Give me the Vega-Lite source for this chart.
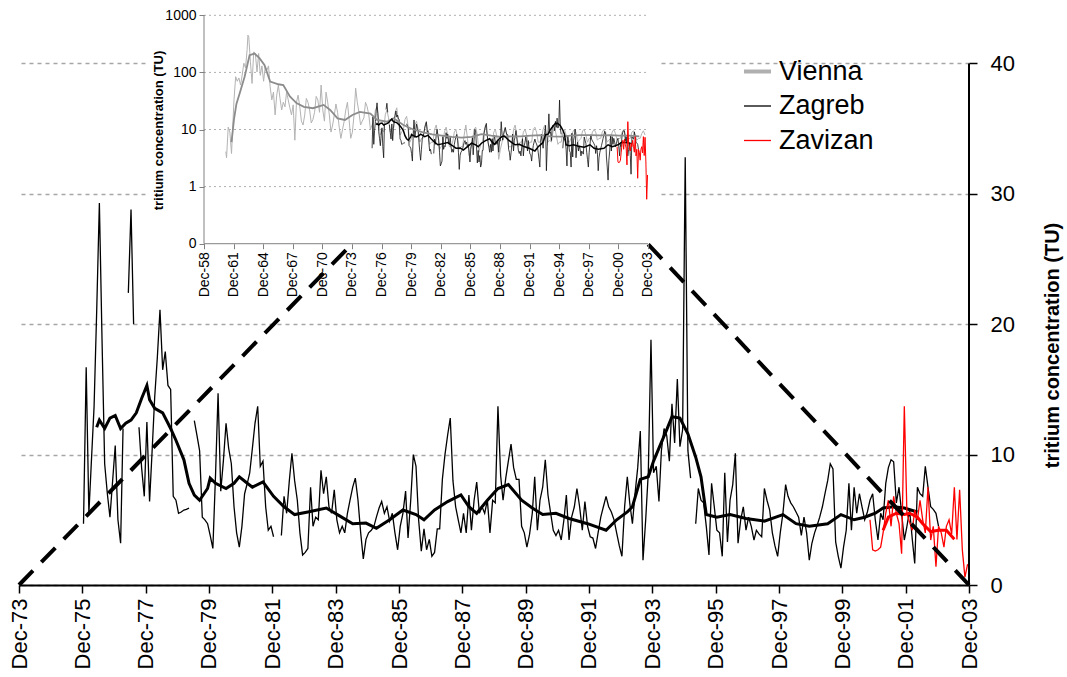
{
"$schema": "https://vega.github.io/schema/vega-lite/v6.json",
"width": 950,
"height": 585,
"autosize": {"type": "none"},
"padding": {"left": 19, "top": 0, "right": 98, "bottom": 92},
"background": "white",
"config": {
  "view": {"stroke": null},
  "font": "Liberation Sans",
  "axis": {"labelColor": "black", "labelFont": "Liberation Sans", "titleColor": "black", "titleFont": "Liberation Sans"},
  "legend": {"labelFont": "Liberation Sans", "labelColor": "black"}
},
"datasets": {
  "zag": [
    {"d":"1975-12-15","v":4.7},
    {"d":"1976-01-15","v":16.7},{"d":"1976-02-15","v":5.5},{"d":"1976-03-15","v":9.5},{"d":"1976-04-15","v":13.7},{"d":"1976-05-15","v":21},{"d":"1976-06-15","v":29.3},{"d":"1976-07-15","v":19},{"d":"1976-08-15","v":9.3},{"d":"1976-09-15","v":7},{"d":"1976-10-15","v":5.2},{"d":"1976-11-15","v":8},{"d":"1976-12-15","v":10.7},
    {"d":"1977-01-15","v":5.0},{"d":"1977-02-15","v":3.2},{"d":"1977-03-15","v":12},{"d":"1977-04-15","v":null},{"d":"1977-05-15","v":22.4},{"d":"1977-06-15","v":28.8},{"d":"1977-07-15","v":20},{"d":"1977-08-15","v":null},{"d":"1977-09-15","v":12.1},{"d":"1977-10-15","v":9},{"d":"1977-11-15","v":6.8},{"d":"1977-12-15","v":12.5},
    {"d":"1978-01-15","v":6.4},{"d":"1978-02-15","v":10.5},{"d":"1978-03-15","v":14.4},{"d":"1978-04-15","v":17.5},{"d":"1978-05-15","v":21.1},{"d":"1978-06-15","v":16.5},{"d":"1978-07-15","v":17.9},{"d":"1978-08-15","v":15.3},{"d":"1978-09-15","v":15.0},{"d":"1978-10-15","v":6.8},{"d":"1978-11-15","v":6.5},{"d":"1978-12-15","v":5.5},
    {"d":"1979-01-15","v":5.6},{"d":"1979-02-15","v":5.75},{"d":"1979-03-15","v":5.8},{"d":"1979-04-15","v":5.9},{"d":"1979-05-15","v":null},{"d":"1979-06-15","v":12.6},{"d":"1979-07-15","v":11.5},{"d":"1979-08-15","v":10.3},{"d":"1979-09-15","v":5.2},{"d":"1979-10-15","v":5.0},{"d":"1979-11-15","v":4.7},{"d":"1979-12-15","v":3.8},
    {"d":"1980-01-15","v":2.8},{"d":"1980-02-15","v":8.5},{"d":"1980-03-15","v":14.7},{"d":"1980-04-15","v":7.2},{"d":"1980-05-15","v":9.5},{"d":"1980-06-15","v":12.4},{"d":"1980-07-15","v":10.5},{"d":"1980-08-15","v":9.3},{"d":"1980-09-15","v":6},{"d":"1980-10-15","v":4},{"d":"1980-11-15","v":2.9},{"d":"1980-12-15","v":4.5},
    {"d":"1981-01-15","v":7.0},{"d":"1981-02-15","v":7.8},{"d":"1981-03-15","v":8.6},{"d":"1981-04-15","v":10.5},{"d":"1981-05-15","v":12.4},{"d":"1981-06-15","v":13.7},{"d":"1981-07-15","v":9.1},{"d":"1981-08-15","v":9.5},{"d":"1981-09-15","v":6},{"d":"1981-10-15","v":4.2},{"d":"1981-11-15","v":4.5},{"d":"1981-12-15","v":3.7},
    {"d":"1982-01-15","v":null},{"d":"1982-02-15","v":null},{"d":"1982-03-15","v":3.8},{"d":"1982-04-15","v":6.8},{"d":"1982-05-15","v":5.5},{"d":"1982-06-15","v":8},{"d":"1982-07-15","v":10.1},{"d":"1982-08-15","v":8},{"d":"1982-09-15","v":6.5},{"d":"1982-10-15","v":4},{"d":"1982-11-15","v":2.3},{"d":"1982-12-15","v":2.5},
    {"d":"1983-01-15","v":2.8},{"d":"1983-02-15","v":7.5},{"d":"1983-03-15","v":4.5},{"d":"1983-04-15","v":5.2},{"d":"1983-05-15","v":5.0},{"d":"1983-06-15","v":8.8},{"d":"1983-07-15","v":7},{"d":"1983-08-15","v":8.3},{"d":"1983-09-15","v":6.0},{"d":"1983-10-15","v":5.5},{"d":"1983-11-15","v":7.3},{"d":"1983-12-15","v":5},
    {"d":"1984-01-15","v":4.0},{"d":"1984-02-15","v":4.5},{"d":"1984-03-15","v":4.0},{"d":"1984-04-15","v":5.5},{"d":"1984-05-15","v":6.5},{"d":"1984-06-15","v":7.5},{"d":"1984-07-15","v":8.2},{"d":"1984-08-15","v":6.5},{"d":"1984-09-15","v":4.0},{"d":"1984-10-15","v":2.0},{"d":"1984-11-15","v":3.5},{"d":"1984-12-15","v":4.0},
    {"d":"1985-01-15","v":4.2},{"d":"1985-02-15","v":4.5},{"d":"1985-03-15","v":5.2},{"d":"1985-04-15","v":5.9},{"d":"1985-05-15","v":6.4},{"d":"1985-06-15","v":5.5},{"d":"1985-07-15","v":6.0},{"d":"1985-08-15","v":4.9},{"d":"1985-09-15","v":5.5},{"d":"1985-10-15","v":4.0},{"d":"1985-11-15","v":2.7},{"d":"1985-12-15","v":4.5},
    {"d":"1986-01-15","v":5.5},{"d":"1986-02-15","v":7.2},{"d":"1986-03-15","v":3.6},{"d":"1986-04-15","v":6.5},{"d":"1986-05-15","v":10.0},{"d":"1986-06-15","v":9.1},{"d":"1986-07-15","v":5},{"d":"1986-08-15","v":2.6},{"d":"1986-09-15","v":4.3},{"d":"1986-10-15","v":2.7},{"d":"1986-11-15","v":3.5},{"d":"1986-12-15","v":2.2},
    {"d":"1987-01-15","v":2.5},{"d":"1987-02-15","v":4.3},{"d":"1987-03-15","v":4.3},{"d":"1987-04-15","v":8.1},{"d":"1987-05-15","v":10},{"d":"1987-06-15","v":11.5},{"d":"1987-07-15","v":12.8},{"d":"1987-08-15","v":8},{"d":"1987-09-15","v":6.0},{"d":"1987-10-15","v":5},{"d":"1987-11-15","v":4.0},{"d":"1987-12-15","v":5.5},
    {"d":"1988-01-15","v":4.0},{"d":"1988-02-15","v":6.9},{"d":"1988-03-15","v":4.2},{"d":"1988-04-15","v":6.5},{"d":"1988-05-15","v":7.9},{"d":"1988-06-15","v":5.5},{"d":"1988-07-15","v":6.0},{"d":"1988-08-15","v":5.5},{"d":"1988-09-15","v":6.5},{"d":"1988-10-15","v":4.0},{"d":"1988-11-15","v":6.5},{"d":"1988-12-15","v":6.3},
    {"d":"1989-01-15","v":13.7},{"d":"1989-02-15","v":8.4},{"d":"1989-03-15","v":6.5},{"d":"1989-04-15","v":8.2},{"d":"1989-05-15","v":9.5},{"d":"1989-06-15","v":10.8},{"d":"1989-07-15","v":9},{"d":"1989-08-15","v":8.1},{"d":"1989-09-15","v":8.1},{"d":"1989-10-15","v":4.5},{"d":"1989-11-15","v":4.0},{"d":"1989-12-15","v":2.9},
    {"d":"1990-01-15","v":3.9},{"d":"1990-02-15","v":5.5},{"d":"1990-03-15","v":8.3},{"d":"1990-04-15","v":4.2},{"d":"1990-05-15","v":6.5},{"d":"1990-06-15","v":7.5},{"d":"1990-07-15","v":9.6},{"d":"1990-08-15","v":6.9},{"d":"1990-09-15","v":5.5},{"d":"1990-10-15","v":4.2},{"d":"1990-11-15","v":3.8},{"d":"1990-12-15","v":4.2},
    {"d":"1991-01-15","v":3.45},{"d":"1991-02-15","v":5},{"d":"1991-03-15","v":6.9},{"d":"1991-04-15","v":3.45},{"d":"1991-05-15","v":5.2},{"d":"1991-06-15","v":6},{"d":"1991-07-15","v":7.4},{"d":"1991-08-15","v":6.0},{"d":"1991-09-15","v":4.2},{"d":"1991-10-15","v":6.4},{"d":"1991-11-15","v":4.5},{"d":"1991-12-15","v":3.7},
    {"d":"1992-01-15","v":3.6},{"d":"1992-02-15","v":2.8},{"d":"1992-03-15","v":4.0},{"d":"1992-04-15","v":5.2},{"d":"1992-05-15","v":6.0},{"d":"1992-06-15","v":6.8},{"d":"1992-07-15","v":6.0},{"d":"1992-08-15","v":5.6},{"d":"1992-09-15","v":5.0},{"d":"1992-10-15","v":4.0},{"d":"1992-11-15","v":3.0},{"d":"1992-12-15","v":2.2},
    {"d":"1993-01-15","v":6.0},{"d":"1993-02-15","v":8.3},{"d":"1993-03-15","v":6.3},{"d":"1993-04-15","v":4.7},{"d":"1993-05-15","v":7},{"d":"1993-06-15","v":9},{"d":"1993-07-15","v":11.8},{"d":"1993-08-15","v":1.9},{"d":"1993-09-15","v":5},{"d":"1993-10-15","v":8.6},{"d":"1993-11-15","v":18.8},{"d":"1993-12-15","v":8.6},
    {"d":"1994-01-15","v":9.1},{"d":"1994-02-15","v":6.4},{"d":"1994-03-15","v":10.3},{"d":"1994-04-15","v":12.0},{"d":"1994-05-15","v":11.5},{"d":"1994-06-15","v":9.5},{"d":"1994-07-15","v":13.9},{"d":"1994-08-15","v":10.9},{"d":"1994-09-15","v":15.8},{"d":"1994-10-15","v":10.6},{"d":"1994-11-15","v":11.9},{"d":"1994-12-15","v":32.8},
    {"d":"1995-01-15","v":10.3},{"d":"1995-02-15","v":8.2},{"d":"1995-03-15","v":null},{"d":"1995-04-15","v":4.7},{"d":"1995-05-15","v":7.4},{"d":"1995-06-15","v":6.5},{"d":"1995-07-15","v":6.3},{"d":"1995-08-15","v":4.5},{"d":"1995-09-15","v":2.3},{"d":"1995-10-15","v":7.8},{"d":"1995-11-15","v":6},{"d":"1995-12-15","v":4.2},
    {"d":"1996-01-15","v":4.0},{"d":"1996-02-15","v":2.2},{"d":"1996-03-15","v":8.6},{"d":"1996-04-15","v":3.3},{"d":"1996-05-15","v":6.5},{"d":"1996-06-15","v":7.7},{"d":"1996-07-15","v":10.1},{"d":"1996-08-15","v":3.2},{"d":"1996-09-15","v":5.0},{"d":"1996-10-15","v":6.0},{"d":"1996-11-15","v":4.2},{"d":"1996-12-15","v":5.2},
    {"d":"1997-01-15","v":4.5},{"d":"1997-02-15","v":3.45},{"d":"1997-03-15","v":4.2},{"d":"1997-04-15","v":3.9},{"d":"1997-05-15","v":3.7},{"d":"1997-06-15","v":7.4},{"d":"1997-07-15","v":6.5},{"d":"1997-08-15","v":5.75},{"d":"1997-09-15","v":4.0},{"d":"1997-10-15","v":3.0},{"d":"1997-11-15","v":2.2},{"d":"1997-12-15","v":4.0},
    {"d":"1998-01-15","v":5.5},{"d":"1998-02-15","v":7.7},{"d":"1998-03-15","v":6.8},{"d":"1998-04-15","v":6.3},{"d":"1998-05-15","v":6.0},{"d":"1998-06-15","v":5.6},{"d":"1998-07-15","v":5.2},{"d":"1998-08-15","v":3.8},{"d":"1998-09-15","v":5.2},{"d":"1998-10-15","v":4.0},{"d":"1998-11-15","v":1.9},{"d":"1998-12-15","v":3.2},
    {"d":"1999-01-15","v":4.0},{"d":"1999-02-15","v":4.6},{"d":"1999-03-15","v":5.2},{"d":"1999-04-15","v":6.0},{"d":"1999-05-15","v":7.0},{"d":"1999-06-15","v":8.0},{"d":"1999-07-15","v":9.3},{"d":"1999-08-15","v":8.9},{"d":"1999-09-15","v":3.3},{"d":"1999-10-15","v":2.2},{"d":"1999-11-15","v":1.3},{"d":"1999-12-15","v":2.9},
    {"d":"2000-01-15","v":4.2},{"d":"2000-02-15","v":7.8},{"d":"2000-03-15","v":4.2},{"d":"2000-04-15","v":7.5},{"d":"2000-05-15","v":5.5},{"d":"2000-06-15","v":7.0},{"d":"2000-07-15","v":6.0},{"d":"2000-08-15","v":5.0},{"d":"2000-09-15","v":5.6},{"d":"2000-10-15","v":6.5},{"d":"2000-11-15","v":7.0},{"d":"2000-12-15","v":5.0},
    {"d":"2001-01-15","v":3.45},{"d":"2001-02-15","v":5.5},{"d":"2001-03-15","v":5.0},{"d":"2001-04-15","v":7.8},{"d":"2001-05-15","v":9.0},{"d":"2001-06-15","v":9.6},{"d":"2001-07-15","v":9.45},{"d":"2001-08-15","v":6.3},{"d":"2001-09-15","v":7.5},{"d":"2001-10-15","v":5.5},{"d":"2001-11-15","v":3.45},{"d":"2001-12-15","v":4.5},
    {"d":"2002-01-15","v":5.75},{"d":"2002-02-15","v":3.5},{"d":"2002-03-15","v":1.65},{"d":"2002-04-15","v":7.5},{"d":"2002-05-15","v":7.0},{"d":"2002-06-15","v":6.8},{"d":"2002-07-15","v":9.1},{"d":"2002-08-15","v":7.5},{"d":"2002-09-15","v":6.0},{"d":"2002-10-15","v":5.8},{"d":"2002-11-15","v":5.5},{"d":"2002-12-15","v":4.5}
  ],
  "zagavg": [
    {"d":"1976-05-15","v":12.1},{"d":"1976-06-15","v":12.65},{"d":"1976-08-15","v":12.0},{"d":"1976-10-15","v":12.8},{"d":"1976-12-15","v":13.0},{"d":"1977-02-15","v":12.0},{"d":"1977-04-15","v":12.4},{"d":"1977-06-15","v":12.65},{"d":"1977-08-15","v":13.2},{"d":"1977-10-15","v":14.3},{"d":"1977-12-15","v":15.3},{"d":"1978-01-15","v":14.2},{"d":"1978-03-15","v":13.55},{"d":"1978-06-15","v":13.2},{"d":"1978-09-15","v":12.0},{"d":"1978-11-15","v":11.1},{"d":"1979-02-15","v":9.6},{"d":"1979-04-15","v":7.8},{"d":"1979-06-15","v":6.9},{"d":"1979-08-15","v":6.5},{"d":"1979-11-15","v":7.4},{"d":"1979-12-15","v":8.2},{"d":"1980-02-15","v":7.8},{"d":"1980-06-15","v":7.4},{"d":"1980-09-15","v":7.8},{"d":"1980-11-15","v":8.3},{"d":"1981-02-15","v":7.8},{"d":"1981-04-15","v":7.5},{"d":"1981-08-15","v":7.9},{"d":"1981-12-15","v":6.8},{"d":"1982-04-15","v":6.0},{"d":"1982-08-15","v":5.4},{"d":"1983-01-15","v":5.6},{"d":"1983-08-15","v":5.9},{"d":"1984-01-15","v":5.3},{"d":"1984-06-15","v":4.7},{"d":"1984-11-15","v":4.75},{"d":"1985-03-15","v":4.35},{"d":"1985-08-15","v":5.0},{"d":"1986-01-15","v":5.75},{"d":"1986-06-15","v":5.4},{"d":"1986-09-15","v":5.0},{"d":"1987-01-15","v":5.75},{"d":"1987-06-15","v":6.4},{"d":"1987-11-15","v":6.9},{"d":"1988-02-15","v":6.0},{"d":"1988-05-15","v":5.5},{"d":"1988-09-15","v":6.5},{"d":"1989-01-15","v":7.4},{"d":"1989-05-15","v":7.7},{"d":"1989-10-15","v":6.5},{"d":"1990-02-15","v":5.9},{"d":"1990-06-15","v":5.4},{"d":"1990-11-15","v":5.5},{"d":"1991-04-15","v":5.1},{"d":"1991-11-15","v":4.7},{"d":"1992-06-15","v":4.2},{"d":"1992-10-15","v":5.0},{"d":"1993-02-15","v":5.6},{"d":"1993-04-15","v":6.0},{"d":"1993-07-15","v":8.1},{"d":"1993-10-15","v":8.3},{"d":"1993-12-15","v":9.5},{"d":"1994-02-15","v":10.5},{"d":"1994-05-15","v":11.9},{"d":"1994-07-15","v":12.9},{"d":"1994-10-15","v":12.8},{"d":"1995-01-15","v":11.6},{"d":"1995-04-15","v":9.8},{"d":"1995-06-15","v":8.3},{"d":"1995-08-15","v":5.4},{"d":"1995-12-15","v":5.2},{"d":"1996-05-15","v":5.4},{"d":"1996-11-15","v":5.1},{"d":"1997-06-15","v":4.9},{"d":"1998-01-15","v":5.4},{"d":"1998-06-15","v":4.7},{"d":"1998-11-15","v":4.5},{"d":"1999-06-15","v":4.7},{"d":"1999-11-15","v":5.4},{"d":"2000-04-15","v":5.0},{"d":"2000-08-15","v":5.2},{"d":"2000-12-15","v":5.5},{"d":"2001-03-15","v":5.9},{"d":"2001-07-15","v":6.0},{"d":"2001-11-15","v":5.9},{"d":"2002-04-15","v":5.6}
  ],
  "zav": [
    {"d":"2000-10-15","v":5.0},{"d":"2000-11-15","v":2.7},{"d":"2000-12-15","v":2.6},{"d":"2001-01-15","v":2.7},{"d":"2001-02-15","v":2.9},{"d":"2001-03-15","v":4.0},{"d":"2001-04-15","v":5.5},{"d":"2001-05-15","v":6.5},{"d":"2001-06-15","v":4.5},{"d":"2001-07-15","v":6.8},{"d":"2001-08-15","v":5.5},{"d":"2001-09-15","v":4.7},{"d":"2001-10-15","v":2.4},{"d":"2001-11-15","v":13.7},{"d":"2001-12-15","v":5.5},
    {"d":"2002-01-15","v":4.8},{"d":"2002-02-15","v":4.2},{"d":"2002-03-15","v":5.75},{"d":"2002-04-15","v":5.0},{"d":"2002-05-15","v":6.5},{"d":"2002-06-15","v":5.0},{"d":"2002-07-15","v":4.0},{"d":"2002-08-15","v":7.5},{"d":"2002-09-15","v":3.45},{"d":"2002-10-15","v":4.5},{"d":"2002-11-15","v":1.4},{"d":"2002-12-15","v":4.5},
    {"d":"2003-01-15","v":4.0},{"d":"2003-02-15","v":2.9},{"d":"2003-03-15","v":4.5},{"d":"2003-04-15","v":5.0},{"d":"2003-05-15","v":3.9},{"d":"2003-06-15","v":7.5},{"d":"2003-07-15","v":3.5},{"d":"2003-08-15","v":7.3},{"d":"2003-09-15","v":2.7},{"d":"2003-10-15","v":0.6},{"d":"2003-11-15","v":1.6}
  ],
  "zavavg": [
    {"d":"2001-03-15","v":4.2},{"d":"2001-05-15","v":5.2},{"d":"2001-08-15","v":5.5},{"d":"2001-11-15","v":5.4},{"d":"2002-01-15","v":5.5},{"d":"2002-04-15","v":5.2},{"d":"2002-06-15","v":4.7},{"d":"2002-09-15","v":4.1},{"d":"2002-12-15","v":4.2},{"d":"2003-03-15","v":4.2},{"d":"2003-06-15","v":3.5}
  ],
  "vie": [
    {"d":"1961-02-15","v":4.1},{"d":"1961-03-15","v":3.2},{"d":"1961-05-15","v":11},{"d":"1961-07-15","v":9},{"d":"1961-09-15","v":3.8},{"d":"1961-12-15","v":33},
    {"d":"1962-02-15","v":84},{"d":"1962-04-15","v":70},{"d":"1962-06-15","v":80},{"d":"1962-08-15","v":60},{"d":"1962-10-15","v":90},{"d":"1962-12-15","v":145},
    {"d":"1963-02-15","v":120},{"d":"1963-04-15","v":250},{"d":"1963-05-15","v":450},{"d":"1963-06-15","v":420},{"d":"1963-08-15","v":154},{"d":"1963-10-15","v":64},{"d":"1963-12-15","v":229},
    {"d":"1964-02-15","v":210},{"d":"1964-04-15","v":102},{"d":"1964-06-15","v":214},{"d":"1964-08-15","v":89},{"d":"1964-10-15","v":130},{"d":"1964-12-15","v":70},
    {"d":"1965-02-15","v":126},{"d":"1965-04-15","v":110},{"d":"1965-06-15","v":130},{"d":"1965-08-15","v":56},{"d":"1965-10-15","v":33},{"d":"1965-12-15","v":45},
    {"d":"1966-02-15","v":18},{"d":"1966-04-15","v":40},{"d":"1966-06-15","v":60},{"d":"1966-08-15","v":35},{"d":"1966-10-15","v":22},{"d":"1966-12-15","v":30},
    {"d":"1967-02-15","v":25},{"d":"1967-04-15","v":45},{"d":"1967-06-15","v":33},{"d":"1967-08-15","v":24},{"d":"1967-10-15","v":18},{"d":"1967-12-15","v":27},
    {"d":"1968-02-15","v":6.5},{"d":"1968-04-15","v":30},{"d":"1968-06-15","v":40},{"d":"1968-08-15","v":25},{"d":"1968-10-15","v":14},{"d":"1968-12-15","v":12},
    {"d":"1969-02-15","v":18},{"d":"1969-04-15","v":35},{"d":"1969-06-15","v":30},{"d":"1969-08-15","v":22},{"d":"1969-10-15","v":13},{"d":"1969-12-15","v":15},
    {"d":"1970-02-15","v":20},{"d":"1970-04-15","v":38},{"d":"1970-06-15","v":33},{"d":"1970-08-15","v":20},{"d":"1970-10-15","v":60},{"d":"1970-12-15","v":22},
    {"d":"1971-02-15","v":14},{"d":"1971-04-15","v":45},{"d":"1971-06-15","v":30},{"d":"1971-08-15","v":18},{"d":"1971-10-15","v":9},{"d":"1971-12-15","v":12},
    {"d":"1972-02-15","v":18},{"d":"1972-04-15","v":28},{"d":"1972-06-15","v":20},{"d":"1972-08-15","v":11},{"d":"1972-10-15","v":7},{"d":"1972-12-15","v":10},
    {"d":"1973-02-15","v":14},{"d":"1973-04-15","v":22},{"d":"1973-06-15","v":30},{"d":"1973-08-15","v":15},{"d":"1973-10-15","v":7},{"d":"1973-12-15","v":9},
    {"d":"1974-02-15","v":18},{"d":"1974-04-15","v":53},{"d":"1974-06-15","v":30},{"d":"1974-08-15","v":20},{"d":"1974-10-15","v":12},{"d":"1974-12-15","v":14},
    {"d":"1975-02-15","v":16},{"d":"1975-04-15","v":30},{"d":"1975-06-15","v":25},{"d":"1975-08-15","v":18},{"d":"1975-10-15","v":10},{"d":"1975-12-15","v":12},
    {"d":"1976-02-15","v":14},{"d":"1976-04-15","v":22},{"d":"1976-06-15","v":25},{"d":"1976-08-15","v":15},{"d":"1976-10-15","v":8},{"d":"1976-12-15","v":10},
    {"d":"1977-02-15","v":9},{"d":"1977-04-15","v":18},{"d":"1977-06-15","v":22},{"d":"1977-08-15","v":16},{"d":"1977-10-15","v":9},{"d":"1977-12-15","v":10},
    {"d":"1978-02-15","v":11},{"d":"1978-04-15","v":20},{"d":"1978-06-15","v":24},{"d":"1978-08-15","v":14},{"d":"1978-10-15","v":8},{"d":"1978-12-15","v":9},
    {"d":"1979-02-15","v":10},{"d":"1979-04-15","v":15},{"d":"1979-06-15","v":17},{"d":"1979-08-15","v":11},{"d":"1979-10-15","v":6},{"d":"1979-12-15","v":7},
    {"d":"1980-02-15","v":8},{"d":"1980-04-15","v":12},{"d":"1980-06-15","v":14},{"d":"1980-08-15","v":10},{"d":"1980-10-15","v":6},{"d":"1980-12-15","v":7},
    {"d":"1981-02-15","v":7},{"d":"1981-04-15","v":11},{"d":"1981-06-15","v":13},{"d":"1981-08-15","v":9},{"d":"1981-10-15","v":5.5},{"d":"1981-12-15","v":6},
    {"d":"1982-02-15","v":6},{"d":"1982-04-15","v":10},{"d":"1982-06-15","v":12},{"d":"1982-08-15","v":8},{"d":"1982-10-15","v":4.5},{"d":"1982-12-15","v":5},
    {"d":"1983-02-15","v":5.5},{"d":"1983-04-15","v":9},{"d":"1983-06-15","v":11},{"d":"1983-08-15","v":8},{"d":"1983-10-15","v":5},{"d":"1983-12-15","v":5},
    {"d":"1984-02-15","v":6},{"d":"1984-04-15","v":9},{"d":"1984-06-15","v":10},{"d":"1984-08-15","v":7},{"d":"1984-10-15","v":4.5},{"d":"1984-12-15","v":5},
    {"d":"1985-02-15","v":5},{"d":"1985-04-15","v":8},{"d":"1985-06-15","v":12},{"d":"1985-08-15","v":7},{"d":"1985-10-15","v":3.5},{"d":"1985-12-15","v":5},
    {"d":"1986-02-15","v":6},{"d":"1986-04-15","v":10},{"d":"1986-06-15","v":11},{"d":"1986-08-15","v":8},{"d":"1986-10-15","v":4},{"d":"1986-12-15","v":5.5},
    {"d":"1987-02-15","v":6},{"d":"1987-04-15","v":9},{"d":"1987-06-15","v":12},{"d":"1987-08-15","v":8},{"d":"1987-10-15","v":5},{"d":"1987-12-15","v":5},
    {"d":"1988-02-15","v":5.5},{"d":"1988-04-15","v":9},{"d":"1988-06-15","v":10},{"d":"1988-08-15","v":7},{"d":"1988-10-15","v":3},{"d":"1988-12-15","v":4.5},
    {"d":"1989-02-15","v":6},{"d":"1989-04-15","v":9},{"d":"1989-06-15","v":11},{"d":"1989-08-15","v":7.5},{"d":"1989-10-15","v":5},{"d":"1989-12-15","v":5},
    {"d":"1990-02-15","v":5},{"d":"1990-04-15","v":10},{"d":"1990-06-15","v":12},{"d":"1990-08-15","v":8},{"d":"1990-10-15","v":5},{"d":"1990-12-15","v":6},
    {"d":"1991-02-15","v":6},{"d":"1991-04-15","v":9},{"d":"1991-06-15","v":10},{"d":"1991-08-15","v":8},{"d":"1991-10-15","v":5.5},{"d":"1991-12-15","v":6},
    {"d":"1992-02-15","v":6},{"d":"1992-04-15","v":10},{"d":"1992-06-15","v":11},{"d":"1992-08-15","v":9},{"d":"1992-10-15","v":6},{"d":"1992-12-15","v":6},
    {"d":"1993-02-15","v":7},{"d":"1993-04-15","v":10},{"d":"1993-06-15","v":12},{"d":"1993-08-15","v":8.5},{"d":"1993-10-15","v":6},{"d":"1993-12-15","v":6.5},
    {"d":"1994-02-15","v":6},{"d":"1994-04-15","v":9},{"d":"1994-06-15","v":11},{"d":"1994-08-15","v":8},{"d":"1994-10-15","v":5.5},{"d":"1994-12-15","v":6},
    {"d":"1995-02-15","v":6},{"d":"1995-04-15","v":9},{"d":"1995-06-15","v":10},{"d":"1995-08-15","v":8},{"d":"1995-10-15","v":6},{"d":"1995-12-15","v":6},
    {"d":"1996-02-15","v":7},{"d":"1996-04-15","v":9},{"d":"1996-06-15","v":10},{"d":"1996-08-15","v":9},{"d":"1996-10-15","v":6},{"d":"1996-12-15","v":6.5},
    {"d":"1997-02-15","v":7},{"d":"1997-04-15","v":9.5},{"d":"1997-06-15","v":10},{"d":"1997-08-15","v":8},{"d":"1997-10-15","v":6},{"d":"1997-12-15","v":7},
    {"d":"1998-02-15","v":7},{"d":"1998-04-15","v":9},{"d":"1998-06-15","v":10},{"d":"1998-08-15","v":9},{"d":"1998-10-15","v":6.5},{"d":"1998-12-15","v":7},
    {"d":"1999-02-15","v":7},{"d":"1999-04-15","v":9},{"d":"1999-06-15","v":10},{"d":"1999-08-15","v":8},{"d":"1999-10-15","v":6},{"d":"1999-12-15","v":6.5},
    {"d":"2000-02-15","v":7},{"d":"2000-04-15","v":9},{"d":"2000-06-15","v":10},{"d":"2000-08-15","v":8.5},{"d":"2000-10-15","v":6.5},{"d":"2000-12-15","v":7},
    {"d":"2001-02-15","v":7},{"d":"2001-04-15","v":9},{"d":"2001-06-15","v":10},{"d":"2001-08-15","v":8},{"d":"2001-10-15","v":6},{"d":"2001-12-15","v":7},
    {"d":"2002-02-15","v":7},{"d":"2002-04-15","v":9},{"d":"2002-06-15","v":9.5},{"d":"2002-08-15","v":8},{"d":"2002-10-15","v":6.5},{"d":"2002-12-15","v":7},
    {"d":"2003-02-15","v":7},{"d":"2003-04-15","v":8.5},{"d":"2003-06-15","v":9.5},{"d":"2003-08-15","v":8}
  ],
  "vieavg": [
    {"d":"1961-09-15","v":6},{"d":"1961-12-15","v":15},{"d":"1962-03-15","v":28},{"d":"1962-07-15","v":43},{"d":"1963-01-15","v":85},{"d":"1963-07-15","v":200},{"d":"1964-01-15","v":214},{"d":"1964-07-15","v":178},{"d":"1965-01-15","v":135},{"d":"1965-08-15","v":69},{"d":"1966-06-15","v":62},{"d":"1966-12-15","v":60},{"d":"1967-08-15","v":38},{"d":"1968-04-15","v":29},{"d":"1969-01-15","v":25},{"d":"1969-12-15","v":23.6},{"d":"1971-01-15","v":27},{"d":"1971-09-15","v":22},{"d":"1972-06-15","v":15.7},{"d":"1973-03-15","v":14.7},{"d":"1973-12-15","v":18},{"d":"1974-09-15","v":20.4},{"d":"1975-10-15","v":19},{"d":"1976-06-15","v":14.7},{"d":"1977-06-15","v":13.7},{"d":"1978-02-15","v":15.7},{"d":"1979-02-15","v":12},{"d":"1980-02-15","v":10},{"d":"1981-01-15","v":9},{"d":"1982-01-15","v":8.2},{"d":"1983-01-15","v":7.8},{"d":"1984-01-15","v":7.4},{"d":"1985-01-15","v":7.2},{"d":"1986-01-15","v":7.4},{"d":"1987-01-15","v":8.3},{"d":"1988-01-15","v":7.8},{"d":"1989-01-15","v":7.4},{"d":"1990-01-15","v":7.6},{"d":"1991-01-15","v":7.6},{"d":"1992-01-15","v":7.8},{"d":"1993-01-15","v":8.0},{"d":"1994-01-15","v":7.6},{"d":"1995-01-15","v":7.5},{"d":"1996-01-15","v":7.8},{"d":"1997-01-15","v":8.0},{"d":"1998-01-15","v":8.0},{"d":"1999-01-15","v":7.9},{"d":"2000-01-15","v":8.0},{"d":"2001-01-15","v":7.8},{"d":"2002-01-15","v":7.8},{"d":"2003-01-15","v":7.6}
  ]
},
"layer": [
  {
    "layer": [
      {
        "data": {"name": "zag"},
        "mark": {"type": "line", "strokeWidth": 1.3, "invalid": "break-paths-filter-domains"},
        "encoding": {
          "x": {"field": "d", "type": "temporal",
                "scale": {"domain": [{"year":1973,"month":12,"date":1},{"year":2003,"month":12,"date":1}]},
                "axis": {"orient": "bottom", "title": null, "format": "%b-%y", "labelAngle": 270, "labelFontSize": 22, "labelPadding": 5, "labelFlush": false, "labelOverlap": false, "labelBound": false, "tickSize": 8, "tickWidth": 1.5, "tickColor": "black", "domainColor": "black", "domainWidth": 2, "grid": false,
                         "values": [{"year":1973,"month":12,"date":1},{"year":1975,"month":12,"date":1},{"year":1977,"month":12,"date":1},{"year":1979,"month":12,"date":1},{"year":1981,"month":12,"date":1},{"year":1983,"month":12,"date":1},{"year":1985,"month":12,"date":1},{"year":1987,"month":12,"date":1},{"year":1989,"month":12,"date":1},{"year":1991,"month":12,"date":1},{"year":1993,"month":12,"date":1},{"year":1995,"month":12,"date":1},{"year":1997,"month":12,"date":1},{"year":1999,"month":12,"date":1},{"year":2001,"month":12,"date":1},{"year":2003,"month":12,"date":1}]}},
          "y": {"field": "v", "type": "quantitative",
                "scale": {"domain": [0, 44.86], "nice": false, "zero": false},
                "axis": {"orient": "right", "values": [0, 10, 20, 30, 40], "domain": false, "grid": true, "gridDash": [4, 4], "gridColor": "#a6a6a6", "gridWidth": 1.5, "tickSize": 8, "tickWidth": 1.5, "tickColor": "black", "labelFontSize": 22, "labelPadding": 13, "labelBound": false, "labelFlush": false,
                         "title": "tritium concentration (TU)", "titleFontSize": 20, "titleFontWeight": "bold", "titleAngle": 270, "titleX": 83, "titleY": 345, "titleAlign": "center", "titleBaseline": "middle"}},
          "color": {"datum": "Zagreb", "type": "nominal",
                    "scale": {"domain": ["Vienna", "Zagreb", "Zavizan"], "range": ["#b0b0b0", "#000000", "#ff0000"]},
                    "legend": {"orient": "none", "legendX": 725, "legendY": 58, "title": null, "symbolType": "stroke", "symbolSize": 729, "symbolStrokeWidth": 1.3, "labelFontSize": 27, "labelOffset": 8, "rowPadding": 6.5, "padding": 0,
                               "encode": {"symbols": {"update": {"strokeWidth": {"signal": "datum.value === 'Vienna' ? 4 : 1.3"}}}}}}
        }
      },
      {
        "data": {"name": "zagavg"},
        "mark": {"type": "line", "strokeWidth": 3, "color": "black"},
        "encoding": {"x": {"field": "d", "type": "temporal"}, "y": {"field": "v", "type": "quantitative"}}
      },
      {
        "data": {"name": "zav"},
        "mark": {"type": "line", "strokeWidth": 1.3},
        "encoding": {"x": {"field": "d", "type": "temporal"}, "y": {"field": "v", "type": "quantitative"}, "color": {"datum": "Zavizan", "type": "nominal"}}
      },
      {
        "data": {"name": "zavavg"},
        "mark": {"type": "line", "strokeWidth": 3, "color": "#ff0000"},
        "encoding": {"x": {"field": "d", "type": "temporal"}, "y": {"field": "v", "type": "quantitative"}}
      },
      {
        "data": {"values": [{}]},
        "mark": {"type": "rule", "color": "black", "strokeWidth": 2},
        "encoding": {"x": {"datum": {"year":2003,"month":12,"date":1}, "type": "temporal"}, "y": {"datum": 0, "type": "quantitative"}, "y2": {"datum": 40}}
      },
      {
        "data": {"values": [{}]},
        "mark": {"type": "rect", "color": "white"},
        "encoding": {"x": {"datum": {"year":1977,"month":12,"date":27}, "type": "temporal"}, "x2": {"datum": {"year":1994,"month":2,"date":4}}, "y": {"datum": 21.5, "type": "quantitative"}, "y2": {"datum": 44.86}}
      }
    ]
  },
  {
    "layer": [
      {
        "data": {"values": [{"g": 1}, {"g": 10}, {"g": 100}, {"g": 1000}]},
        "mark": {"type": "rule", "color": "#b0b0b0", "strokeDash": [2, 3], "strokeWidth": 1},
        "encoding": {
          "x": {"datum": {"year":1958,"month":12,"date":1}, "type": "temporal",
                "scale": {"domain": [{"year":1940,"month":3,"date":1},{"year":2036,"month":6,"date":15}]},
                "axis": {"orient": "bottom", "offset": -341.3, "title": null, "format": "%b-%y", "labelAngle": 270, "labelFontSize": 14, "labelPadding": 3, "labelFlush": false, "labelOverlap": false, "labelBound": false, "tickSize": 5, "tickWidth": 1, "tickColor": "#808080", "domain": false, "grid": false, "zindex": 1,
                         "values": [{"year":1958,"month":12,"date":1},{"year":1961,"month":12,"date":1},{"year":1964,"month":12,"date":1},{"year":1967,"month":12,"date":1},{"year":1970,"month":12,"date":1},{"year":1973,"month":12,"date":1},{"year":1976,"month":12,"date":1},{"year":1979,"month":12,"date":1},{"year":1982,"month":12,"date":1},{"year":1985,"month":12,"date":1},{"year":1988,"month":12,"date":1},{"year":1991,"month":12,"date":1},{"year":1994,"month":12,"date":1},{"year":1997,"month":12,"date":1},{"year":2000,"month":12,"date":1},{"year":2003,"month":12,"date":1}]}},
          "x2": {"datum": {"year":2003,"month":12,"date":1}},
          "y": {"field": "g", "type": "quantitative",
                "scale": {"type": "log", "domain": [1.054e-7, 1854], "nice": false},
                "axis": {"orient": "left", "offset": -185, "values": [0.1, 1, 10, 100, 1000], "format": ".0f", "domain": false, "grid": false, "tickSize": 5, "tickWidth": 1, "tickColor": "#808080", "labelFontSize": 14, "labelPadding": 3, "labelBound": false, "labelFlush": false, "zindex": 1,
                         "title": "tritium concentration (TU)", "titleFontSize": 13, "titleFontWeight": "bold", "titleAngle": 270, "titleX": -46, "titleY": 130, "titleAlign": "center", "titleBaseline": "middle"}}
        }
      },
      {
        "data": {"name": "vie"},
        "mark": {"type": "line", "strokeWidth": 1, "color": "#b3b3b3"},
        "encoding": {"x": {"field": "d", "type": "temporal"}, "y": {"field": "v", "type": "quantitative"}}
      },
      {
        "data": {"name": "zag"},
        "mark": {"type": "line", "strokeWidth": 0.8, "color": "#111111", "invalid": "break-paths-filter-domains"},
        "encoding": {"x": {"field": "d", "type": "temporal"}, "y": {"field": "v", "type": "quantitative"}}
      },
      {
        "data": {"name": "vieavg"},
        "mark": {"type": "line", "strokeWidth": 1.8, "color": "#8c8c8c"},
        "encoding": {"x": {"field": "d", "type": "temporal"}, "y": {"field": "v", "type": "quantitative"}}
      },
      {
        "data": {"name": "zagavg"},
        "mark": {"type": "line", "strokeWidth": 1.5, "color": "black"},
        "encoding": {"x": {"field": "d", "type": "temporal"}, "y": {"field": "v", "type": "quantitative"}}
      },
      {
        "data": {"name": "zav"},
        "mark": {"type": "line", "strokeWidth": 1, "color": "#ff0000"},
        "encoding": {"x": {"field": "d", "type": "temporal"}, "y": {"field": "v", "type": "quantitative"}}
      },
      {
        "data": {"values": [{}]},
        "mark": {"type": "rule", "color": "#808080", "strokeWidth": 1},
        "encoding": {"x": {"datum": {"year":1958,"month":12,"date":1}, "type": "temporal"}, "y": {"datum": 0.1, "type": "quantitative"}, "y2": {"datum": 1000}}
      },
      {
        "data": {"values": [{}]},
        "mark": {"type": "rule", "color": "#808080", "strokeWidth": 1},
        "encoding": {"x": {"datum": {"year":1958,"month":12,"date":1}, "type": "temporal"}, "x2": {"datum": {"year":2003,"month":12,"date":1}}, "y": {"datum": 0.1, "type": "quantitative"}}
      }
    ]
  },
  {
    "layer": [
      {
        "data": {"values": [{}]},
        "mark": {"type": "rule", "color": "black", "strokeWidth": 4, "strokeDash": [20, 12]},
        "encoding": {
          "x": {"datum": {"year":1973,"month":12,"date":1}, "type": "temporal", "scale": {"domain": [{"year":1973,"month":12,"date":1},{"year":2003,"month":12,"date":1}]}, "axis": null},
          "y": {"datum": 0, "type": "quantitative", "scale": {"domain": [0, 44.86], "nice": false, "zero": false}, "axis": null},
          "x2": {"datum": {"year":1984,"month":6,"date":6}},
          "y2": {"datum": 26.15}
        }
      },
      {
        "data": {"values": [{}]},
        "mark": {"type": "rule", "color": "black", "strokeWidth": 4, "strokeDash": [20, 12]},
        "encoding": {
          "x": {"datum": {"year":2003,"month":12,"date":1}, "type": "temporal"},
          "y": {"datum": 0, "type": "quantitative"},
          "x2": {"datum": {"year":1993,"month":10,"date":11}},
          "y2": {"datum": 26.15}
        }
      }
    ]
  }
],
"resolve": {"scale": {"x": "independent", "y": "independent"}}
}
